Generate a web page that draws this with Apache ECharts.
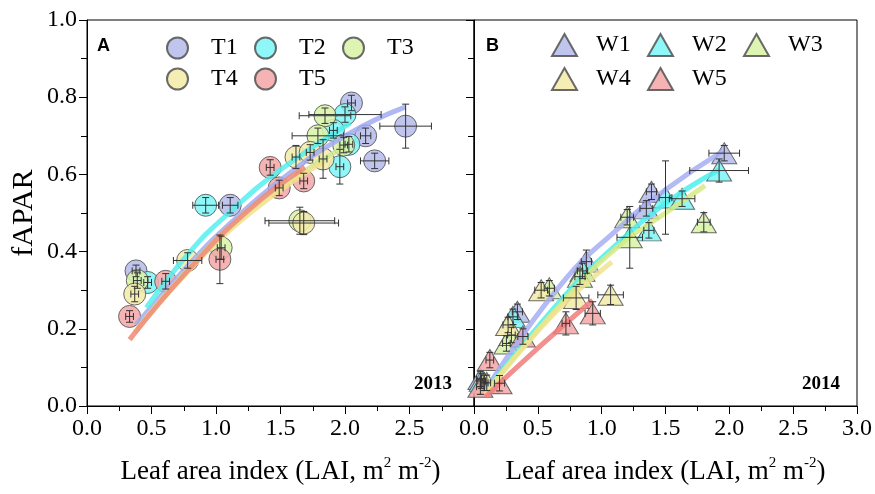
<!DOCTYPE html>
<html><head><meta charset="utf-8">
<script src="https://cdn.jsdelivr.net/npm/echarts@6/dist/echarts.min.js"></script>
<style>html,body{margin:0;padding:0;background:#fff}#c{width:875px;height:494px}</style>
</head><body><div id="c"></div>
<script>
// ---------- Panel A (2013) ----------
const namesA = ['T1','T2','T3','T4','T5'];
const T1_lai   = [0.38, 1.11, 2.05, 2.47, 2.16, 2.23];
const T1_fapar = [0.35, 0.52, 0.785, 0.725, 0.70, 0.635];
const T1_laiErr   = [0.03, 0.06, 0.03, 0.20, 0.04, 0.11];
const T1_faparErr = [0.015, 0.02, 0.02, 0.057, 0.02, 0.02];
const T2_lai   = [0.47, 0.92, 2.00, 1.91, 2.03, 1.96];
const T2_fapar = [0.32, 0.52, 0.755, 0.714, 0.678, 0.62];
const T2_laiErr   = [0.03, 0.10, 0.28, 0.03, 0.03, 0.03];
const T2_faparErr = [0.015, 0.02, 0.02, 0.02, 0.02, 0.045];
const T3_lai   = [0.39, 1.04, 1.845, 1.79, 1.99, 1.65];
const T3_fapar = [0.325, 0.41, 0.752, 0.70, 0.676, 0.48];
const T3_laiErr   = [0.03, 0.03, 0.20, 0.20, 0.03, 0.27];
const T3_faparErr = [0.02, 0.03, 0.02, 0.02, 0.02, 0.035];
const T4_lai   = [0.37, 0.78, 1.62, 1.73, 1.83, 1.68];
const T4_fapar = [0.29, 0.377, 0.645, 0.657, 0.64, 0.474];
const T4_laiErr   = [0.03, 0.11, 0.03, 0.03, 0.03, 0.27];
const T4_faparErr = [0.02, 0.02, 0.03, 0.02, 0.05, 0.03];
const T5_lai   = [0.33, 0.61, 1.03, 1.42, 1.49, 1.68];
const T5_fapar = [0.232, 0.323, 0.38, 0.618, 0.565, 0.583];
const T5_laiErr   = [0.03, 0.03, 0.03, 0.03, 0.03, 0.03];
const T5_faparErr = [0.015, 0.02, 0.063, 0.02, 0.02, 0.02];
// fitted curves
const T1_fitLai = [0.38, 0.80, 1.10, 1.50, 2.00, 2.47];
const T1_fitFapar = [0.21, 0.37, 0.47, 0.585, 0.70, 0.775];
const T2_fitLai = [0.46, 0.80, 1.10, 1.50, 2.04];
const T2_fitFapar = [0.255, 0.40, 0.50, 0.612, 0.733];
const T3_fitLai = [0.39, 0.80, 1.20, 1.60, 1.99];
const T3_fitFapar = [0.20, 0.36, 0.49, 0.59, 0.67];
const T4_fitLai = [0.37, 0.80, 1.20, 1.60, 1.84];
const T4_fitFapar = [0.19, 0.355, 0.482, 0.583, 0.633];
const T5_fitLai = [0.33, 0.78, 1.26, 1.69];
const T5_fitFapar = [0.172, 0.35, 0.51, 0.618];

// ---------- Panel B (2014) ----------
const namesB = ['W1','W2','W3','W4','W5'];
const W1_lai   = [0.05, 0.34, 0.88, 1.35, 1.39, 1.96];
const W1_fapar = [0.07, 0.244, 0.374, 0.512, 0.555, 0.655];
const W1_laiErr   = [0.03, 0.04, 0.04, 0.05, 0.04, 0.12];
const W1_faparErr = [0.02, 0.02, 0.03, 0.02, 0.02, 0.02];
const W2_lai   = [0.06, 0.305, 0.85, 1.37, 1.50, 1.63, 1.92];
const W2_fapar = [0.065, 0.231, 0.35, 0.455, 0.54, 0.537, 0.61];
const W2_laiErr   = [0.03, 0.04, 0.04, 0.04, 0.05, 0.10, 0.23];
const W2_faparErr = [0.02, 0.02, 0.02, 0.02, 0.095, 0.02, 0.03];
const W3_lai   = [0.08, 0.254, 0.293, 0.59, 0.83, 1.20, 1.22, 1.80];
const W3_fapar = [0.06, 0.162, 0.184, 0.305, 0.335, 0.489, 0.437, 0.476];
const W3_laiErr   = [0.03, 0.03, 0.03, 0.04, 0.04, 0.05, 0.10, 0.05];
const W3_faparErr = [0.02, 0.02, 0.02, 0.02, 0.02, 0.02, 0.08, 0.025];
const W4_lai   = [0.10, 0.267, 0.526, 0.80, 1.07];
const W4_fapar = [0.06, 0.21, 0.30, 0.28, 0.288];
const W4_laiErr   = [0.03, 0.04, 0.05, 0.10, 0.10];
const W4_faparErr = [0.02, 0.02, 0.02, 0.03, 0.025];
const W5_lai   = [0.05, 0.124, 0.20, 0.383, 0.72, 0.93];
const W5_fapar = [0.05, 0.119, 0.059, 0.18, 0.214, 0.24];
const W5_laiErr   = [0.03, 0.03, 0.04, 0.04, 0.03, 0.06];
const W5_faparErr = [0.02, 0.02, 0.02, 0.02, 0.03, 0.03];
const W1_fitLai = [0.09, 0.67, 1.14, 1.50, 1.95];
const W1_fitFapar = [0.04, 0.31, 0.463, 0.56, 0.66];
const W2_fitLai = [0.09, 0.75, 1.14, 1.50, 1.92];
const W2_fitFapar = [0.037, 0.30, 0.425, 0.525, 0.612];
const W3_fitLai = [0.09, 0.75, 1.14, 1.50, 1.81];
const W3_fitFapar = [0.035, 0.29, 0.416, 0.50, 0.571];
const W4_fitLai = [0.09, 0.60, 1.08];
const W4_fitFapar = [0.03, 0.23, 0.373];
const W5_fitLai = [0.09, 0.50, 0.93];
const W5_fitFapar = [0.024, 0.15, 0.274];

// ticks
const xTickLabels = ['0.0','0.5','1.0','1.5','2.0','2.5','3.0'];
const yTickLabels = ['0.0','0.2','0.4','0.6','0.8','1.0'];

const groupsA = [
  [T1_lai,T1_fapar,T1_laiErr,T1_faparErr,T1_fitLai,T1_fitFapar],
  [T2_lai,T2_fapar,T2_laiErr,T2_faparErr,T2_fitLai,T2_fitFapar],
  [T3_lai,T3_fapar,T3_laiErr,T3_faparErr,T3_fitLai,T3_fitFapar],
  [T4_lai,T4_fapar,T4_laiErr,T4_faparErr,T4_fitLai,T4_fitFapar],
  [T5_lai,T5_fapar,T5_laiErr,T5_faparErr,T5_fitLai,T5_fitFapar]
];
const groupsB = [
  [W1_lai,W1_fapar,W1_laiErr,W1_faparErr,W1_fitLai,W1_fitFapar],
  [W2_lai,W2_fapar,W2_laiErr,W2_faparErr,W2_fitLai,W2_fitFapar],
  [W3_lai,W3_fapar,W3_laiErr,W3_faparErr,W3_fitLai,W3_fitFapar],
  [W4_lai,W4_fapar,W4_laiErr,W4_faparErr,W4_fitLai,W4_fitFapar],
  [W5_lai,W5_fapar,W5_laiErr,W5_faparErr,W5_fitLai,W5_fitFapar]
];

const FONT = '"Liberation Serif", "Times New Roman", serif';
const fillColors = ['#b7bdeb','#80f6f6','#d8f3a8','#f4ecaa','#f4a9a9'];
const lineColorsA = ['#a2abf2','#55eeee','#cfe993','#f0e28e','#f08a78'];
const lineColorsB = ['#a6aef2','#4ceeee','#d6ea84','#efe38e','#f07c7c'];

function errRender(params, api) {
  const x = api.value(0), y = api.value(1), xe = api.value(2), ye = api.value(3);
  const l = api.coord([x - xe, y]), r = api.coord([x + xe, y]);
  const t = api.coord([x, y + ye]), b = api.coord([x, y - ye]);
  const cap = 3.5;
  const st = {stroke: '#333', lineWidth: 1};
  const ln = (x1,y1,x2,y2) => ({type:'line', shape:{x1,y1,x2,y2}, style: st});
  const ch = [
    ln(l[0], l[1], r[0], r[1]),
    ln(l[0], l[1]-cap, l[0], l[1]+cap),
    ln(r[0], r[1]-cap, r[0], r[1]+cap),
    ln(t[0], t[1], b[0], b[1]),
    ln(t[0]-cap, t[1], t[0]+cap, t[1]),
    ln(b[0]-cap, b[1], b[0]+cap, b[1])
  ];
  return {type: 'group', children: ch};
}

const series = [];
function addPanel(groups, names, idx, symbol, symSize, lineColors) {
  groups.forEach((g, i) => {
    const pts = g[0].map((v, k) => [v, g[1][k]]);
    series.push({
      name: names[i], type: 'scatter', xAxisIndex: idx, yAxisIndex: idx,
      symbol: symbol, symbolSize: symSize, data: pts, z: 2,
      itemStyle: {color: fillColors[i], borderColor: '#555', borderWidth: 1, opacity: 0.88}
    });
  });
  groups.forEach((g, i) => {
    series.push({
      name: names[i] + ' fit', type: 'line', xAxisIndex: idx, yAxisIndex: idx,
      data: g[4].map((v, k) => [v, g[5][k]]), smooth: true, showSymbol: false,
      lineStyle: {color: lineColors[i], width: 5, opacity: 0.85}, z: 3, silent: true
    });
  });
  groups.forEach((g, i) => {
    series.push({
      name: names[i] + ' err', type: 'custom', xAxisIndex: idx, yAxisIndex: idx,
      renderItem: errRender, encode: {x: 0, y: 1},
      data: g[0].map((v, k) => [v, g[1][k], g[2][k], g[3][k]]), z: 4, silent: true
    });
  });
}
addPanel(groupsA, namesA, 0, 'circle', 22, lineColorsA);
addPanel(groupsB, namesB, 1, 'triangle', [25, 21], lineColorsB);

const xAxisCommon = {
  type: 'value', min: 0, max: 3, interval: 0.5,
  axisLine: {show: true, onZero: false, lineStyle: {color: '#000', width: 1}},
  axisTick: {show: true, length: 8, lineStyle: {color: '#000'}},
  minorTick: {show: true, splitNumber: 2, length: 5, lineStyle: {color: '#000'}},
  splitLine: {show: false}, minorSplitLine: {show: false},
  nameLocation: 'middle', nameGap: 50,
  name: 'Leaf area index (LAI, m{sup|2} m{sup|-2})',
  nameTextStyle: {fontFamily: FONT, fontSize: 27, color: '#000',
    rich: {sup: {fontFamily: FONT, fontSize: 15, color: '#000', verticalAlign: 'top', lineHeight: 32}}}
};
const option = {
  backgroundColor: '#fff',
  animation: false,
  grid: [
    {left: 87, top: 20, width: 387, height: 386, show: true, borderColor: '#000', borderWidth: 1, backgroundColor: 'transparent'},
    {left: 474, top: 20, width: 386, height: 386, show: true, borderColor: '#000', borderWidth: 1, backgroundColor: 'transparent'}
  ],
  xAxis: [
    Object.assign({}, xAxisCommon, {gridIndex: 0,
      axisLabel: {fontFamily: FONT, fontSize: 24, color: '#000', margin: 11,
        formatter: (v) => { const i = Math.round(v / 0.5); return i === 6 ? '' : xTickLabels[i]; }}}),
    Object.assign({}, xAxisCommon, {gridIndex: 1,
      axisLabel: {fontFamily: FONT, fontSize: 24, color: '#000', margin: 11,
        formatter: (v) => xTickLabels[Math.round(v / 0.5)]}})
  ],
  yAxis: [
    {type: 'value', gridIndex: 0, min: 0, max: 1, interval: 0.2,
      axisLine: {show: true, lineStyle: {color: '#000'}},
      axisTick: {show: true, length: 8, lineStyle: {color: '#000'}},
      minorTick: {show: true, splitNumber: 2, length: 6, lineStyle: {color: '#000'}},
      splitLine: {show: false},
      axisLabel: {fontFamily: FONT, fontSize: 24, color: '#000', margin: 10,
        formatter: (v) => yTickLabels[Math.round(v / 0.2)]},
      name: 'fAPAR', nameLocation: 'middle', nameGap: 48,
      nameTextStyle: {fontFamily: FONT, fontSize: 30, color: '#000'}},
    {type: 'value', gridIndex: 1, min: 0, max: 1, interval: 0.2,
      axisLine: {show: true, lineStyle: {color: '#000'}},
      axisTick: {show: true, length: 8, lineStyle: {color: '#000'}},
      minorTick: {show: true, splitNumber: 2, length: 6, lineStyle: {color: '#000'}},
      splitLine: {show: false}, axisLabel: {show: false}}
  ],
  title: [
    {text: 'A', left: 92, top: 32, textStyle: {fontFamily: '"Liberation Sans", Arial, sans-serif', fontWeight: 'bold', fontSize: 18, color: '#000'}},
    {text: 'B', left: 481, top: 32, textStyle: {fontFamily: '"Liberation Sans", Arial, sans-serif', fontWeight: 'bold', fontSize: 18, color: '#000'}},
    {text: '2013', right: 418, top: 370, textStyle: {fontFamily: FONT, fontWeight: 'bold', fontSize: 19, color: '#000'}},
    {text: '2014', right: 30, top: 370, textStyle: {fontFamily: FONT, fontWeight: 'bold', fontSize: 19, color: '#000'}}
  ],
  legend: [],
  series: series
};
// legends: one per item, laid out in two rows of three
const legPosA = [[166, 36], [254, 36], [342, 36], [166, 67], [254, 67]];
const legPosB = [[551, 33], [647, 33], [743, 33], [551, 67], [647, 67]];
namesA.forEach((n, i) => option.legend.push({
  data: [n], left: legPosA[i][0], top: legPosA[i][1], icon: 'circle', itemWidth: 21, itemHeight: 21,
  selectedMode: false, padding: 0,
  textStyle: {fontFamily: FONT, fontSize: 24, color: '#000', padding: [0, 0, 0, 18]}
}));
namesB.forEach((n, i) => option.legend.push({
  data: [n], left: legPosB[i][0], top: legPosB[i][1], icon: 'triangle', itemWidth: 25, itemHeight: 22,
  selectedMode: false, padding: 0,
  textStyle: {fontFamily: FONT, fontSize: 24, color: '#000', padding: [0, 0, 0, 14]}
}));

const chart = echarts.init(document.getElementById('c'), null, {renderer: 'canvas'});
chart.setOption(option);
</script>
</body></html>
